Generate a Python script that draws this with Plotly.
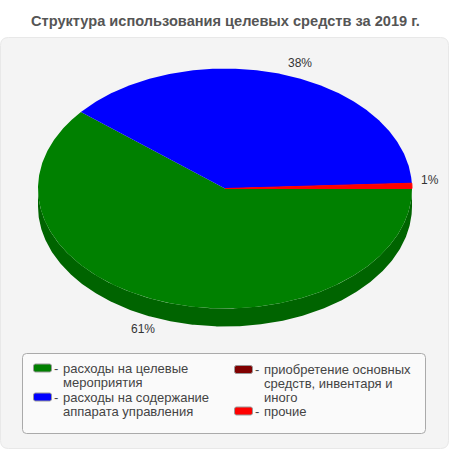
import numpy as np
import plotly.graph_objects as go

# slices go clockwise from 3 o'clock
categories = ['расходы на целевые мероприятия', 'расходы на содержание аппарата управления',
              'приобретение основных средств, инвентаря и иного', 'прочие']
values = [61.0, 38.3, 0.0, 0.7]
colors = ['#008000', '#0000ff', '#800000', '#ff0000']
side_colors = ['#006400', '#0000a0', '#600000', '#b00000']
title = 'Структура использования целевых средств за 2019 г.'

# legend wording, split the way the reference wraps it
legend_lines = [['расходы на целевые', 'мероприятия'],
                ['расходы на содержание', 'аппарата управления'],
                ['приобретение основных', 'средств, инвентаря и', 'иного'],
                ['прочие']]

# geometry in page pixels
cx, cy, rx, ry, depth = 225, 188.5, 187, 120, 18
label_pos = {0: (143, 329), 1: (300, 63), 3: (430, 180)}
legend_x = [33, 33, 234, 234]
legend_y = [[368, 382], [397, 411], [369.5, 383.5, 397.5], [411]]


def rounded(x0, y0, x1, y1, r):
    return (f'M{x0+r},{y0} L{x1-r},{y0} Q{x1},{y0} {x1},{y0+r} L{x1},{y1-r} Q{x1},{y1} {x1-r},{y1} '
            f'L{x0+r},{y1} Q{x0},{y1} {x0},{y1-r} L{x0},{y0+r} Q{x0},{y0} {x0+r},{y0} Z')


def arc(a0, a1):
    t = np.radians(np.linspace(a0, a1, max(int(abs(a1 - a0) * 2), 2) + 1))
    return cx + rx * np.cos(t), cy + ry * np.sin(t)


fig = go.Figure()

angles = np.cumsum([0] + values) / sum(values) * 360

# side wall, only the front half of the disc shows it
for i in range(len(values)):
    a0, a1 = angles[i], min(angles[i + 1], 180)
    if a1 <= a0:
        continue
    x, y = arc(a0, a1)
    fig.add_trace(go.Scatter(x=np.r_[x, x[::-1]], y=np.r_[y, y[::-1] + depth], mode='lines', fill='toself',
                             fillcolor=side_colors[i], line=dict(width=0), hoverinfo='skip'))

# top face, the red sliver needs a stroke to stay as thick as in the reference
for i in range(len(values)):
    if values[i] == 0:
        continue
    x, y = arc(angles[i], angles[i + 1])
    fig.add_trace(go.Scatter(x=np.r_[cx, x, cx], y=np.r_[cy, y, cy], mode='lines', fill='toself',
                             fillcolor=colors[i], hoverinfo='skip',
                             line=dict(color=colors[i], width=1 if values[i] < 1 else 0)))

shapes = [
    dict(type='path', path=rounded(0.5, 37.5, 448.5, 448.5, 8), fillcolor='#f4f4f4',
         line=dict(color='#e8e8e8', width=1), layer='below'),
    dict(type='path', path=rounded(22.5, 353.5, 425.5, 433.5, 4), fillcolor='#fafafa',
         line=dict(color='#aaaaaa', width=1), layer='below'),
]
annotations = [dict(x=225, y=21, text=f'<b>{title}</b>', showarrow=False, xanchor='center', yanchor='middle',
                    font=dict(family='Liberation Sans', size=14.6, color='#555555'))]

for i, pos in label_pos.items():
    annotations.append(dict(x=pos[0], y=pos[1], text=f'{round(values[i])}%', showarrow=False,
                            font=dict(family='Liberation Sans', size=12, color='#333333')))

for i in range(len(categories)):
    y0 = legend_y[i][0]
    shapes.append(dict(type='path', path=rounded(legend_x[i] + 0.5, y0 - 4, legend_x[i] + 18.5, y0 + 4, 2),
                       fillcolor=colors[i], line=dict(color='#999999', width=1)))
    annotations.append(dict(x=legend_x[i] + 19, y=y0, text='-', showarrow=False, xanchor='left',
                            font=dict(family='Liberation Sans', size=13, color='#444444')))
    for line, y in zip(legend_lines[i], legend_y[i]):
        annotations.append(dict(x=legend_x[i] + 28, y=y, text=line, showarrow=False, xanchor='left',
                                font=dict(family='Liberation Sans', size=13, color='#444444')))

fig.update_layout(
    width=450, height=450, margin=dict(l=0, r=0, t=0, b=0), showlegend=False,
    paper_bgcolor='white', plot_bgcolor='rgba(0,0,0,0)', shapes=shapes, annotations=annotations,
    xaxis=dict(range=[0, 450], visible=False, fixedrange=True),
    yaxis=dict(range=[450, 0], visible=False, fixedrange=True),
)

# page margin would push the chart 8px off
fig.write_html('out.html', config=dict(displayModeBar=False),
               post_script="document.body.style.margin='0';document.documentElement.style.overflow='hidden';")
